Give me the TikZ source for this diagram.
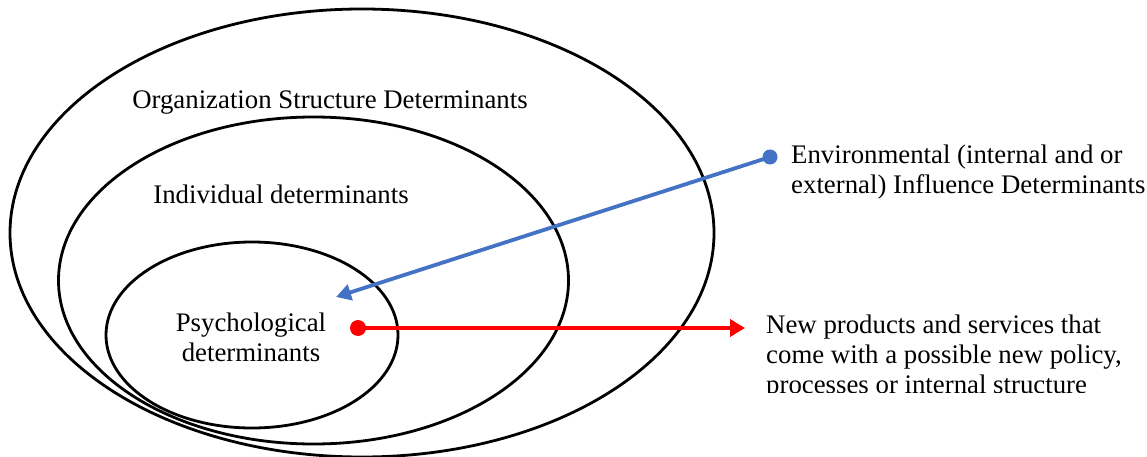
\documentclass[tikz,border=0pt]{standalone}
\usepackage{fontspec}
\setmainfont{Liberation Serif}
\usetikzlibrary{shapes.geometric,arrows.meta}
\definecolor{envblue}{HTML}{4472C4}
\definecolor{newred}{HTML}{FF0000}
\begin{document}
\begin{tikzpicture}[x=1pt,y=-1pt,
  ring/.style={ellipse,draw=black,line width=2.8pt,inner sep=0pt},
  lbl/.style={font=\fontsize{26.8}{30}\selectfont,inner sep=0pt},
  dot/.style={circle,inner sep=0pt,minimum size=15pt},
  link/.style={line width=3.8pt}]
\useasboundingbox (0,0) rectangle (1147,457);

% nested determinant rings
\node[ring,minimum width=704pt,minimum height=448pt] (org) at (362,233) {};
\node[ring,minimum width=510pt,minimum height=327pt] (ind) at (313.5,280.5) {};
\node[ring,minimum width=292pt,minimum height=186pt] (psy) at (252,335) {};

% ring labels
\node[lbl] (orglbl) at (330,103) {Organization Structure Determinants};
\node[lbl] (indlbl) at (281,194) {Individual determinants};
\node[lbl,align=center] (psylbl) at (251,337) {Psychological\\determinants};

% environmental influence
\node[lbl,anchor=west,align=left] (envlbl) at (791,172) {Environmental (internal and or\\external) Influence Determinants};
\node[dot,fill=envblue] (envdot) at (770,157) {};
\coordinate (envtip) at (336,297);
\draw[link,draw=envblue,-{Triangle[length=15pt,width=16pt]}] (envdot.center) -- (envtip);

% outcome of psychological determinants
\node[dot,fill=newred,minimum size=16pt] (newdot) at (358,328) {};
\coordinate (newtip) at (745,328);
\draw[link,draw=newred,-{Triangle[length=15pt,width=17pt]}] (newdot.center) -- (newtip);
\begin{scope}
  \clip (740,300) rectangle (1147,392);
  \node[lbl,anchor=north west,align=left] (newlbl) at (766,315) {New products and services that\\come with a possible new policy,\\processes or internal structure};
\end{scope}
\end{tikzpicture}
\end{document}
